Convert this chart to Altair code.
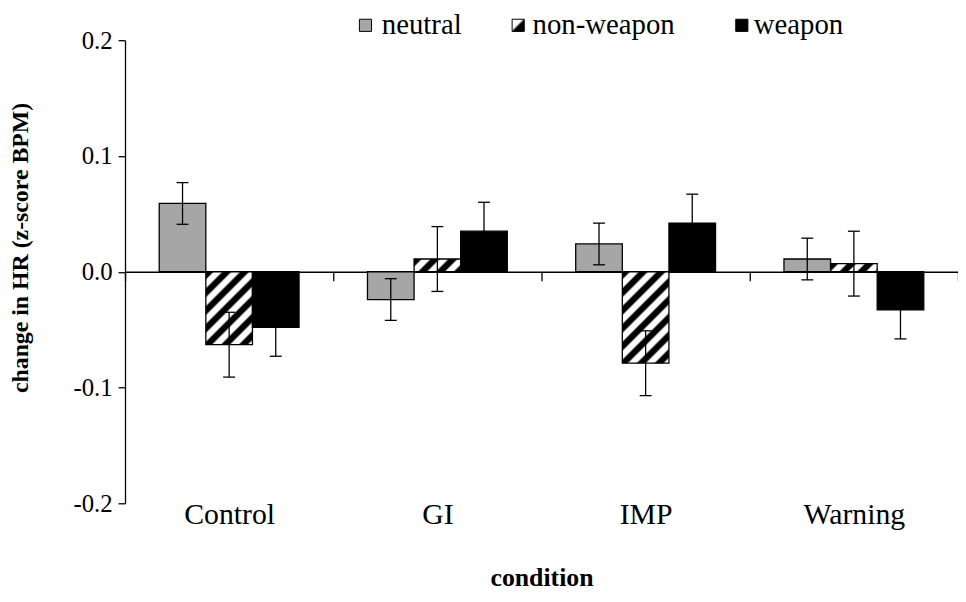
import altair as alt
import pandas as pd

# ---------------- data ----------------
conditions = ["Control", "GI", "IMP", "Warning"]
series = ["neutral", "non-weapon", "weapon"]
neutral = [0.059, -0.024, 0.024, 0.011]
non_weapon = [-0.063, 0.011, -0.079, 0.007]
weapon = [-0.048, 0.035, 0.042, -0.033]
neutral_err = [0.018, 0.018, 0.018, 0.018]
non_weapon_err = [0.028, 0.028, 0.028, 0.028]
weapon_err = [0.025, 0.025, 0.025, 0.025]
y_ticks = [-0.2, -0.1, 0.0, 0.1, 0.2]

rows = []
for s, vals, errs in zip(series, [neutral, non_weapon, weapon],
                         [neutral_err, non_weapon_err, weapon_err]):
    for c, v, e in zip(conditions, vals, errs):
        rows.append({"condition": c, "series": s, "value": v,
                     "lo": v - e, "hi": v + e})
df = pd.DataFrame(rows)

# ---------------- style / layout ----------------
FONT = "Liberation Serif"
PLOT_W, PLOT_H = 840, 467
YMIN, YMAX = -0.2, 0.2
OFF_PAD = 0.734
STEP = PLOT_W / len(conditions)
BAR_W = STEP / (len(series) + 2 * OFF_PAD)
PX_PER_UNIT = PLOT_H / (YMAX - YMIN)
GRAY = "#a6a6a6"
LINE_W = 1.3


def hatch(value, period=18.0):
    w = BAR_W
    h = max(abs(value) * PX_PER_UNIT, 1.0)
    k = (w + h) / (w * w + h * h)
    p = period / (w + h)
    stops = []
    i = 0
    pattern = [(0.0, "black"), (0.36, "black"), (0.5, "white"), (0.86, "white")]
    while i * p <= 1.0:
        for f, col in pattern:
            off = (i + f) * p
            if off <= 1.0:
                stops.append({"offset": round(off, 5), "color": col})
        i += 1
    return {"gradient": "linear", "x1": 0, "y1": 0,
            "x2": k * w, "y2": k * h, "stops": stops}


legend_grad = {"gradient": "linear", "x1": 0, "y1": 0, "x2": 1, "y2": 1,
               "stops": [{"offset": 0, "color": "white"},
                         {"offset": 0.42, "color": "white"},
                         {"offset": 0.55, "color": "black"},
                         {"offset": 1, "color": "black"}]}

x_axis = alt.Axis(
    orient="bottom", offset=-(PLOT_H / 2), domain=True, domainColor="black",
    domainWidth=LINE_W, ticks=True, tickBand="extent", tickSize=9,
    tickColor="black", tickWidth=LINE_W, labelFont=FONT, labelFontSize=30,
    labelColor="black", labelPadding=236, labelAngle=0, labelBaseline="middle",
    grid=False, title="condition", titleFont=FONT, titleFontSize=26,
    titleFontWeight="bold", titleColor="black", titleY=308,
    titleBaseline="middle",
)
x_enc = alt.X("condition:N", sort=conditions,
              scale=alt.Scale(domain=conditions, paddingInner=0, paddingOuter=0),
              axis=x_axis)
xoff = alt.XOffset("series:N", sort=series,
                   scale=alt.Scale(domain=series, paddingInner=0,
                                   paddingOuter=OFF_PAD))
y_scale = alt.Scale(domain=[YMIN, YMAX], nice=False, zero=False)
y_axis = alt.Axis(
    values=y_ticks, grid=False, domain=True, domainColor="black",
    domainWidth=LINE_W, ticks=True, tickSize=7, tickColor="black",
    tickWidth=LINE_W, labelFont=FONT, labelFontSize=25, labelColor="black",
    labelPadding=6,
    labelExpr="datum.value < 0 ? '-' + format(-datum.value, '.1f') : format(datum.value, '.1f')",
    titleFont=FONT, titleFontSize=24, titleFontWeight="bold",
    titleColor="black", titleX=-105, titleY=209, titleBaseline="middle",
    titleAlign="center", titleAngle=270,
)
Y_TITLE = "change in HR (z-score BPM)"


def yq(field):
    return alt.Y(field, scale=y_scale, axis=y_axis, title=Y_TITLE)


base = alt.Chart(df)

layers = []
layers.append(
    base.transform_filter(alt.datum.series == "neutral")
    .mark_bar(fill=GRAY, stroke="black", strokeWidth=LINE_W)
    .encode(x=x_enc, xOffset=xoff, y=yq("value:Q"))
)
for c, v in zip(conditions, non_weapon):
    layers.append(
        base.transform_filter(
            (alt.datum.series == "non-weapon") & (alt.datum.condition == c))
        .mark_bar(fill=hatch(v), stroke="black", strokeWidth=LINE_W)
        .encode(x=x_enc, xOffset=xoff, y=yq("value:Q"))
    )
layers.append(
    base.transform_filter(alt.datum.series == "weapon")
    .mark_bar(fill="black", stroke="black", strokeWidth=LINE_W)
    .encode(x=x_enc, xOffset=xoff, y=yq("value:Q"))
)
# error bars
layers.append(
    base.mark_rule(color="black", strokeWidth=LINE_W)
    .encode(x=x_enc, xOffset=xoff, y=yq("lo:Q"), y2="hi:Q")
)
for fld in ["lo:Q", "hi:Q"]:
    layers.append(
        base.mark_tick(color="black", thickness=LINE_W, size=12, opacity=1)
        .encode(x=x_enc, xOffset=xoff, y=yq(fld))
    )

# legend (manual, above the plot)
one = pd.DataFrame({"k": [0]})
legend_items = [
    ("neutral", GRAY, 242.5, 259),
    ("non-weapon", legend_grad, 396.5, 411),
    ("weapon", "black", 622, 634),
]
LEG_Y = -15
for label, fill, sx, tx in legend_items:
    layers.append(
        alt.Chart(one).mark_square(fill=fill, stroke="black", strokeWidth=1,
                                   size=150, opacity=1)
        .encode(x=alt.value(sx), y=alt.value(LEG_Y))
    )
    layers.append(
        alt.Chart(one).mark_text(text=label, font=FONT, fontSize=29,
                                 color="black", align="left",
                                 baseline="middle")
        .encode(x=alt.value(tx), y=alt.value(LEG_Y))
    )

chart = (
    alt.layer(*layers)
    .properties(
        width=PLOT_W, height=PLOT_H,
        autosize=alt.AutoSizeParams(type="none"),
        padding={"left": 118, "top": 30, "right": 0, "bottom": 89},
        background="white",
    )
    .configure_view(stroke=None)
)

chart.save("out.html", embed_options={"renderer": "svg", "actions": False})
